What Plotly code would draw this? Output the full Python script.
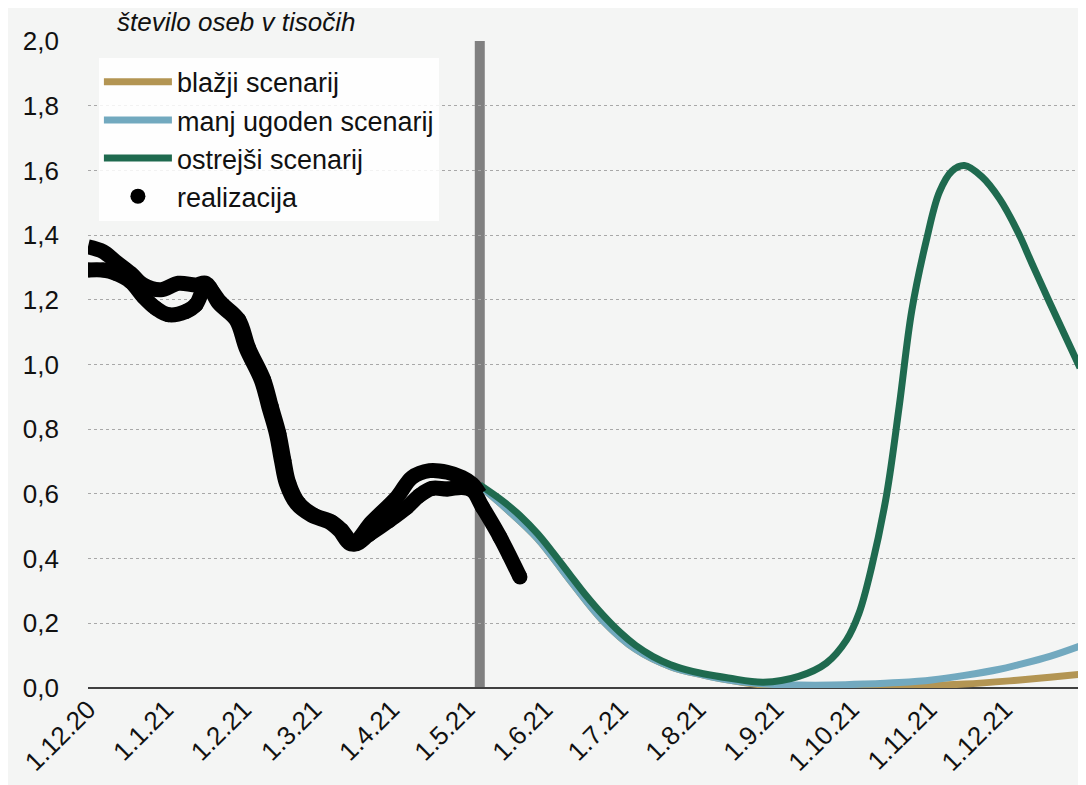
import plotly.graph_objects as go

FONT = "Liberation Sans Narrow, Arial Narrow, Liberation Sans, Arial, sans-serif"

# ---- data ----
real_dates = ["2020-12-01", "2020-12-07", "2020-12-12", "2020-12-18", "2020-12-23", "2020-12-28",
              "2021-01-02", "2021-01-09", "2021-01-13", "2021-01-17",
              "2021-01-23", "2021-01-30", "2021-02-03", "2021-02-09", "2021-02-12", "2021-02-15",
              "2021-02-17", "2021-02-19", "2021-02-23", "2021-03-01", "2021-03-08", "2021-03-12",
              "2021-03-17", "2021-03-23", "2021-03-31", "2021-04-07", "2021-04-12", "2021-04-17",
              "2021-04-23", "2021-04-29", "2021-05-03", "2021-05-07", "2021-05-14", "2021-05-22"]
real_values = [1.292, 1.292, 1.282, 1.256, 1.210, 1.174,
               1.154, 1.164, 1.185, 1.241,
               1.190, 1.138, 1.050, 0.952, 0.869, 0.787,
               0.704, 0.632, 0.570, 0.534, 0.513, 0.488,
               0.445, 0.475, 0.518, 0.559, 0.595, 0.617,
               0.615, 0.620, 0.611, 0.560, 0.467, 0.343]

real2_dates = ["2020-12-01", "2020-12-07", "2020-12-12", "2020-12-18", "2020-12-23", "2020-12-30",
               "2021-01-06", "2021-01-13", "2021-01-17", "2021-01-22", "2021-01-29", "2021-02-02",
               "2021-02-08", "2021-02-11", "2021-02-14", "2021-02-16", "2021-02-18", "2021-02-22",
               "2021-02-28", "2021-03-07", "2021-03-11", "2021-03-16", "2021-03-24", "2021-04-03",
               "2021-04-09", "2021-04-16", "2021-04-23", "2021-04-29", "2021-05-03", "2021-05-06"]
real2_values = [1.364, 1.349, 1.318, 1.282, 1.246, 1.231,
                1.251, 1.246, 1.251, 1.190, 1.138, 1.050,
                0.952, 0.869, 0.787, 0.704, 0.632, 0.570,
                0.534, 0.513, 0.488, 0.445, 0.513, 0.590,
                0.651, 0.672, 0.667, 0.651, 0.631, 0.600]

green_dates = ["2021-05-06", "2021-05-15", "2021-05-22", "2021-05-29", "2021-06-04", "2021-06-11",
               "2021-06-17", "2021-06-24", "2021-07-01", "2021-07-07", "2021-07-14", "2021-07-21",
               "2021-07-27", "2021-08-03", "2021-08-13", "2021-08-27", "2021-09-10",
               "2021-09-21", "2021-09-29", "2021-10-04", "2021-10-09", "2021-10-15", "2021-10-20",
               "2021-10-25", "2021-10-31", "2021-11-05", "2021-11-10", "2021-11-15", "2021-11-22",
               "2021-11-29", "2021-12-06", "2021-12-12", "2021-12-19", "2021-12-31"]
green_values = [0.628, 0.579, 0.533, 0.477, 0.420, 0.349,
                0.289, 0.226, 0.171, 0.132, 0.097, 0.072,
                0.057, 0.044, 0.031, 0.018, 0.036,
                0.077, 0.148, 0.231, 0.373, 0.598, 0.870,
                1.166, 1.390, 1.533, 1.598, 1.615, 1.580,
                1.512, 1.414, 1.310, 1.190, 0.990]

blue_dates = ["2021-05-06", "2021-05-15", "2021-05-29", "2021-06-11", "2021-06-24", "2021-07-07",
              "2021-07-21", "2021-08-03", "2021-08-15", "2021-08-28", "2021-09-10", "2021-09-23",
              "2021-10-06", "2021-10-20", "2021-11-02", "2021-11-15", "2021-11-29", "2021-12-06",
              "2021-12-19", "2021-12-31"]
blue_values = [0.625, 0.565, 0.462, 0.332, 0.208, 0.120,
               0.066, 0.040, 0.022, 0.012, 0.009, 0.009,
               0.012, 0.017, 0.025, 0.039, 0.058, 0.071,
               0.098, 0.130]

gold_dates = ["2021-05-06", "2021-05-15", "2021-05-29", "2021-06-11", "2021-06-24", "2021-07-07",
              "2021-07-21", "2021-08-03", "2021-08-15", "2021-08-28", "2021-09-10", "2021-09-23",
              "2021-10-20", "2021-11-15", "2021-12-06", "2021-12-19", "2021-12-31"]
gold_values = [0.625, 0.565, 0.462, 0.332, 0.208, 0.120,
               0.066, 0.040, 0.022, 0.008, 0.004, 0.003,
               0.006, 0.012, 0.024, 0.033, 0.042]

tick_dates = ["2020-12-01", "2021-01-01", "2021-02-01", "2021-03-01", "2021-04-01", "2021-05-01",
              "2021-06-01", "2021-07-01", "2021-08-01", "2021-09-01", "2021-10-01", "2021-11-01",
              "2021-12-01"]
tick_labels = ["1.12.20", "1.1.21", "1.2.21", "1.3.21", "1.4.21", "1.5.21", "1.6.21", "1.7.21",
               "1.8.21", "1.9.21", "1.10.21", "1.11.21", "1.12.21"]

forecast_start = "2021-05-06"

# ---- figure ----
fig = go.Figure()
fig.add_trace(go.Scatter(x=gold_dates, y=gold_values, mode="lines", name="blažji scenarij",
                         line=dict(color="#b39553", width=7, shape="spline")))
fig.add_trace(go.Scatter(x=blue_dates, y=blue_values, mode="lines", name="manj ugoden scenarij",
                         line=dict(color="#72a9bf", width=7, shape="spline")))
fig.add_trace(go.Scatter(x=green_dates, y=green_values, mode="lines", name="ostrejši scenarij",
                         line=dict(color="#1f6a4f", width=7, shape="spline")))
fig.add_trace(go.Scatter(x=real2_dates, y=real2_values, mode="lines", showlegend=False,
                         line=dict(color="black", width=15, shape="spline")))
fig.add_trace(go.Scatter(x=real_dates, y=real_values, mode="lines", showlegend=False,
                         line=dict(color="black", width=15, shape="spline")))
fig.add_trace(go.Scatter(x=real_dates, y=real_values, mode="markers", name="realizacija",
                         marker=dict(color="black", size=15)))

fig.add_shape(type="line", xref="x", yref="y", x0=forecast_start, x1=forecast_start,
              y0=-0.01, y1=2.0, line=dict(color="#808080", width=10), layer="below")

fig.add_annotation(text="<i>število oseb v tisočih</i>", xref="paper", yref="paper",
                   x=0.027, y=1.0, xanchor="left", yanchor="bottom", yshift=2, showarrow=False,
                   font=dict(family=FONT, size=26, color="#111111"))

fig.update_layout(
    width=1078, height=777,
    margin=dict(l=80, r=6, t=33, b=97),
    paper_bgcolor="#f4f5f4", plot_bgcolor="rgba(0,0,0,0)",
    separators=", ",
    font=dict(family=FONT, size=27, color="#111111"),
    legend=dict(x=0.011, y=0.974, xanchor="left", yanchor="top",
                bgcolor="rgba(255,255,255,0.85)", borderwidth=0,
                font=dict(family=FONT, size=27, color="#111111"),
                tracegroupgap=0, itemwidth=68),
    xaxis=dict(type="date", range=["2020-12-01", "2021-12-31"], tickvals=tick_dates,
               ticktext=tick_labels, tickangle=-45, showgrid=False, zeroline=False,
               showline=False, ticks="", tickfont=dict(family=FONT, size=26, color="#111111")),
    yaxis=dict(range=[0, 2.0], dtick=0.2, tick0=0, tickformat=".1f", showgrid=True,
               gridcolor="#a8a8a8", griddash="dot", gridwidth=1,
               zeroline=True, zerolinecolor="#404040", zerolinewidth=1.5,
               showline=False, ticks="", ticklabelstandoff=28,
               tickfont=dict(family=FONT, size=26, color="#111111")),
)

fig.write_html("out.html")
